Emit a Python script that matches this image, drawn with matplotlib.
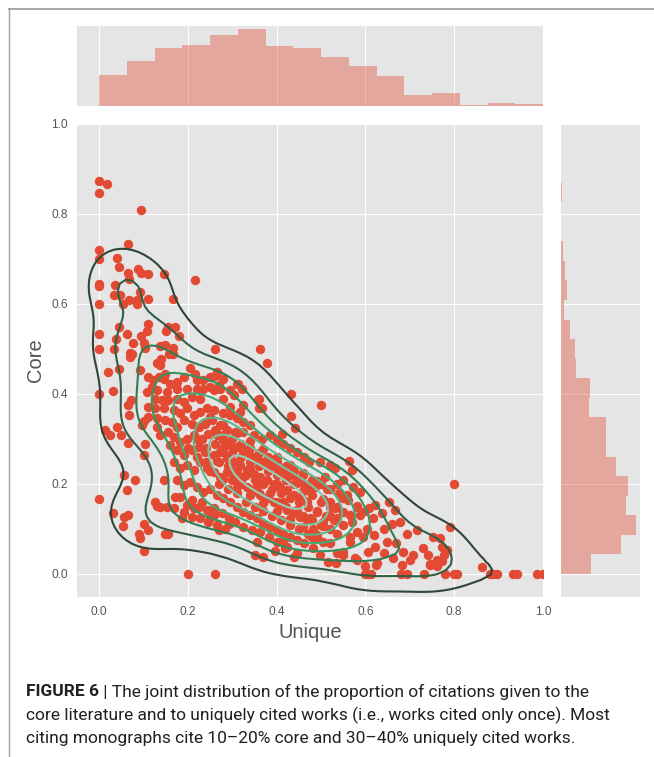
import numpy as np
import matplotlib
matplotlib.use("Agg")
import matplotlib.pyplot as plt
from matplotlib.colors import LinearSegmentedColormap
from matplotlib.lines import Line2D

plt.style.use("ggplot")
plt.rcParams["font.family"] = ["Liberation Sans", "DejaVu Sans"]

# (unique, core) pairs, grouped by region
upper_left = [
    (0.000, 0.873), (0.017, 0.866), (0.000, 0.846), (0.095, 0.810), (0.065, 0.734),
    (0.000, 0.720), (0.000, 0.700), (0.041, 0.703), (0.044, 0.682), (0.065, 0.668),
    (0.068, 0.655), (0.087, 0.677), (0.095, 0.668), (0.110, 0.667), (0.147, 0.667),
    (0.216, 0.653), (0.000, 0.645), (0.000, 0.640), (0.035, 0.643), (0.034, 0.621),
    (0.046, 0.619), (0.054, 0.601), (0.068, 0.609), (0.086, 0.609), (0.086, 0.600),
    (0.092, 0.626), (0.110, 0.612), (0.166, 0.612), (0.000, 0.601), (0.000, 0.534),
    (0.000, 0.501), (0.034, 0.501), (0.038, 0.522), (0.045, 0.548), (0.062, 0.533),
    (0.077, 0.514), (0.070, 0.492), (0.075, 0.490), (0.095, 0.529), (0.107, 0.540),
    (0.109, 0.555), (0.102, 0.514), (0.104, 0.503), (0.136, 0.507), (0.149, 0.510),
    (0.154, 0.549), (0.171, 0.548), (0.150, 0.540), (0.179, 0.529), (0.166, 0.502),
    (0.166, 0.490), (0.260, 0.501), (0.363, 0.501), (0.139, 0.477), (0.157, 0.488),
]

left_spread = [
    (0.070, 0.482), (0.020, 0.449), (0.044, 0.455), (0.000, 0.401), (0.030, 0.407),
    (0.092, 0.453), (0.066, 0.375), (0.068, 0.353), (0.072, 0.386), (0.014, 0.320),
    (0.025, 0.309), (0.040, 0.327), (0.050, 0.309), (0.066, 0.292), (0.100, 0.340),
    (0.096, 0.331), (0.104, 0.290), (0.100, 0.264), (0.055, 0.220), (0.081, 0.209),
    (0.062, 0.186), (0.000, 0.166), (0.030, 0.135), (0.055, 0.126), (0.064, 0.132),
    (0.053, 0.106), (0.089, 0.090), (0.093, 0.081), (0.111, 0.098), (0.100, 0.112),
    (0.100, 0.051), (0.126, 0.161), (0.130, 0.152), (0.136, 0.150), (0.145, 0.209),
    (0.149, 0.090), (0.156, 0.089), (0.171, 0.172), (0.186, 0.125),
]

band_outliers = [
    (0.378, 0.468), (0.433, 0.400), (0.432, 0.351), (0.442, 0.325), (0.500, 0.375),
    (0.313, 0.423), (0.358, 0.386), (0.360, 0.370), (0.411, 0.312), (0.295, 0.408),
    (0.265, 0.449), (0.260, 0.440), (0.270, 0.420), (0.564, 0.251), (0.569, 0.231),
    (0.652, 0.161), (0.667, 0.142), (0.800, 0.201), (0.790, 0.105),
]

band_lower = [
    (0.198, 0.153), (0.213, 0.146), (0.231, 0.161), (0.250, 0.124), (0.258, 0.131),
    (0.269, 0.098), (0.292, 0.112), (0.355, 0.072), (0.352, 0.042), (0.370, 0.038),
    (0.397, 0.051), (0.419, 0.057), (0.438, 0.038), (0.415, 0.076),
]

zero_row = [
    (0.199, 0.0), (0.262, 0.0), (0.599, 0.0), (0.606, 0.0), (0.613, 0.0),
    (0.679, 0.0), (0.693, 0.0), (0.732, 0.0), (0.779, 0.0), (0.800, 0.0),
    (0.807, 0.0), (0.880, 0.0), (0.888, 0.0), (0.897, 0.0), (0.933, 0.0),
    (0.941, 0.0), (0.987, 0.0), (1.000, 0.0), (0.862, 0.015), (0.746, 0.022),
    (0.761, 0.017), (0.772, 0.028), (0.600, 0.017), (0.624, 0.020), (0.534, 0.025),
]

band_upper = [
    (0.111, 0.438), (0.122, 0.431), (0.134, 0.438), (0.145, 0.434), (0.137, 0.464),
    (0.130, 0.468), (0.149, 0.445), (0.160, 0.423), (0.175, 0.427), (0.190, 0.438),
    (0.205, 0.457), (0.216, 0.445), (0.198, 0.412), (0.175, 0.412), (0.153, 0.405),
    (0.130, 0.408), (0.119, 0.416), (0.107, 0.405), (0.126, 0.390), (0.141, 0.386),
    (0.156, 0.386), (0.175, 0.390), (0.190, 0.383), (0.209, 0.394), (0.228, 0.390),
    (0.220, 0.412), (0.235, 0.412), (0.250, 0.416), (0.265, 0.449), (0.258, 0.408),
    (0.273, 0.412), (0.280, 0.390), (0.295, 0.371), (0.310, 0.423), (0.322, 0.412),
    (0.303, 0.397), (0.280, 0.434), (0.250, 0.438), (0.235, 0.431), (0.220, 0.431),
    (0.111, 0.371), (0.126, 0.368), (0.145, 0.368), (0.168, 0.364), (0.183, 0.357),
    (0.198, 0.368), (0.213, 0.353), (0.228, 0.360), (0.243, 0.368), (0.258, 0.364),
    (0.280, 0.357), (0.295, 0.353), (0.310, 0.346), (0.325, 0.338), (0.340, 0.331),
    (0.359, 0.390), (0.367, 0.368), (0.325, 0.375), (0.318, 0.360), (0.111, 0.349),
    (0.130, 0.346), (0.149, 0.342), (0.164, 0.338), (0.175, 0.327), (0.190, 0.342),
    (0.209, 0.334), (0.224, 0.327), (0.239, 0.334), (0.254, 0.342), (0.273, 0.331),
    (0.288, 0.320), (0.307, 0.316), (0.325, 0.316), (0.348, 0.309), (0.367, 0.301),
    (0.385, 0.309), (0.400, 0.297), (0.415, 0.290), (0.430, 0.279), (0.446, 0.272),
    (0.461, 0.260), (0.472, 0.249),
]

band_middle = [
    (0.130, 0.327), (0.137, 0.309), (0.156, 0.316), (0.168, 0.305), (0.183, 0.294),
    (0.198, 0.301), (0.213, 0.309), (0.231, 0.301), (0.246, 0.312), (0.265, 0.309),
    (0.280, 0.297), (0.295, 0.286), (0.310, 0.283), (0.325, 0.275), (0.340, 0.264),
    (0.355, 0.257), (0.370, 0.249), (0.385, 0.242), (0.400, 0.235), (0.415, 0.227),
    (0.430, 0.220), (0.446, 0.212), (0.461, 0.201), (0.472, 0.190),
    (0.160, 0.286), (0.175, 0.275), (0.190, 0.264), (0.209, 0.275), (0.224, 0.283),
    (0.239, 0.272), (0.258, 0.264), (0.273, 0.272), (0.288, 0.257), (0.303, 0.249),
    (0.318, 0.242), (0.333, 0.231), (0.348, 0.223), (0.363, 0.216), (0.378, 0.209),
    (0.393, 0.201), (0.408, 0.194), (0.423, 0.186), (0.438, 0.175), (0.453, 0.168),
    (0.468, 0.161),
    (0.168, 0.249), (0.183, 0.235), (0.198, 0.242), (0.213, 0.231), (0.228, 0.249),
    (0.243, 0.235), (0.258, 0.227), (0.273, 0.216), (0.288, 0.227), (0.303, 0.216),
    (0.318, 0.205), (0.333, 0.194), (0.348, 0.186), (0.363, 0.175), (0.378, 0.168),
    (0.393, 0.161), (0.408, 0.153), (0.423, 0.142), (0.438, 0.135), (0.453, 0.127),
    (0.468, 0.120),
    (0.175, 0.209), (0.190, 0.198), (0.205, 0.205), (0.220, 0.194), (0.235, 0.183),
    (0.250, 0.190), (0.265, 0.175), (0.280, 0.168), (0.295, 0.161), (0.310, 0.149),
    (0.325, 0.138), (0.340, 0.131), (0.355, 0.124), (0.370, 0.112), (0.385, 0.105),
    (0.400, 0.098), (0.415, 0.090), (0.430, 0.083), (0.446, 0.075), (0.461, 0.068),
    (0.183, 0.172), (0.209, 0.164), (0.224, 0.149), (0.243, 0.142), (0.258, 0.146),
    (0.276, 0.135), (0.292, 0.124), (0.307, 0.116), (0.325, 0.105), (0.344, 0.098),
    (0.363, 0.094), (0.382, 0.083), (0.400, 0.072), (0.423, 0.061), (0.446, 0.046),
    (0.153, 0.149), (0.168, 0.146), (0.190, 0.138), (0.209, 0.127), (0.228, 0.124),
    (0.246, 0.116), (0.265, 0.109), (0.284, 0.101),
]

band_core = [
    (0.30, 0.27), (0.32, 0.26), (0.34, 0.25), (0.36, 0.24), (0.38, 0.23), (0.40, 0.22),
    (0.42, 0.21), (0.44, 0.20), (0.46, 0.185), (0.48, 0.175), (0.50, 0.16), (0.52, 0.15),
    (0.31, 0.23), (0.33, 0.22), (0.35, 0.21), (0.37, 0.20), (0.39, 0.19), (0.41, 0.18),
    (0.43, 0.17), (0.45, 0.16), (0.47, 0.15), (0.49, 0.14), (0.51, 0.13), (0.53, 0.12),
    (0.30, 0.21), (0.32, 0.20), (0.34, 0.19), (0.36, 0.18), (0.38, 0.17), (0.40, 0.16),
    (0.42, 0.15), (0.44, 0.14), (0.46, 0.13), (0.48, 0.12), (0.50, 0.11), (0.52, 0.10),
    (0.26, 0.29), (0.28, 0.28), (0.27, 0.25), (0.29, 0.24), (0.25, 0.23), (0.27, 0.20),
    (0.29, 0.19), (0.31, 0.18), (0.33, 0.16), (0.35, 0.15), (0.37, 0.14), (0.39, 0.13),
    (0.41, 0.12), (0.43, 0.11), (0.45, 0.10), (0.47, 0.09), (0.49, 0.08),
    (0.22, 0.30), (0.24, 0.28), (0.20, 0.28), (0.22, 0.26), (0.24, 0.25), (0.26, 0.32),
    (0.28, 0.31), (0.30, 0.30), (0.32, 0.29), (0.34, 0.28), (0.36, 0.27), (0.38, 0.26),
    (0.40, 0.25), (0.42, 0.24), (0.44, 0.23), (0.46, 0.22), (0.48, 0.21), (0.50, 0.20),
    (0.52, 0.19), (0.54, 0.18), (0.56, 0.165), (0.58, 0.15), (0.60, 0.14),
]

band_core_wide = [
    (0.25, 0.350), (0.28, 0.332), (0.31, 0.314), (0.34, 0.296), (0.37, 0.278), (0.40, 0.260),
    (0.43, 0.242), (0.46, 0.224), (0.49, 0.206), (0.52, 0.188), (0.55, 0.170), (0.58, 0.152),
    (0.25, 0.230), (0.28, 0.212), (0.31, 0.194), (0.34, 0.176), (0.37, 0.158), (0.40, 0.140),
    (0.43, 0.122), (0.46, 0.104), (0.49, 0.086), (0.52, 0.068), (0.55, 0.050), (0.58, 0.032),
    (0.265, 0.311), (0.295, 0.293), (0.325, 0.275), (0.355, 0.257), (0.385, 0.239),
    (0.415, 0.221), (0.445, 0.203), (0.475, 0.185), (0.505, 0.167), (0.535, 0.149),
    (0.565, 0.131),
    (0.265, 0.251), (0.295, 0.233), (0.325, 0.215), (0.355, 0.197), (0.385, 0.179),
    (0.415, 0.161), (0.445, 0.143), (0.475, 0.125), (0.505, 0.107), (0.535, 0.089),
    (0.565, 0.071),
    (0.28, 0.272), (0.34, 0.236), (0.40, 0.200), (0.46, 0.164), (0.52, 0.128),
]

band_right = [
    (0.497, 0.249), (0.520, 0.242), (0.531, 0.235), (0.508, 0.216), (0.486, 0.194),
    (0.513, 0.190), (0.535, 0.201), (0.550, 0.209), (0.572, 0.194), (0.588, 0.183),
    (0.558, 0.175), (0.520, 0.161), (0.531, 0.146), (0.550, 0.138), (0.535, 0.124),
    (0.490, 0.138), (0.505, 0.116), (0.482, 0.101), (0.520, 0.101), (0.550, 0.109),
    (0.569, 0.116), (0.588, 0.131), (0.607, 0.146), (0.622, 0.153), (0.637, 0.135),
    (0.618, 0.124), (0.603, 0.101), (0.580, 0.094), (0.565, 0.083), (0.595, 0.083),
    (0.620, 0.087), (0.642, 0.101), (0.659, 0.112), (0.678, 0.116), (0.693, 0.090),
    (0.648, 0.072), (0.669, 0.068), (0.685, 0.050), (0.708, 0.042), (0.715, 0.098),
    (0.730, 0.057), (0.741, 0.042), (0.753, 0.083), (0.768, 0.079), (0.772, 0.061),
    (0.761, 0.031), (0.745, 0.020), (0.776, 0.042), (0.783, 0.053), (0.606, 0.050),
    (0.625, 0.024), (0.576, 0.035), (0.550, 0.042), (0.535, 0.046), (0.516, 0.027),
    (0.497, 0.042), (0.482, 0.057), (0.479, 0.083), (0.505, 0.072), (0.683, 0.020),
    (0.700, 0.031), (0.663, 0.035), (0.641, 0.046), (0.622, 0.061),
]

# marginal histograms (bar heights)
unique_hist = [93, 135, 174, 182, 213, 231, 179, 174, 147, 120, 90, 33, 39, 2, 9, 6]
unique_range = (0.0, 1.0)
core_hist = [90, 179, 226, 195, 201, 165, 135, 135, 84, 86, 45, 43, 28, 8, 18, 13, 6, 0, 0, 3]
core_range = (0.0, 0.87)

ticks = [0.0, 0.2, 0.4, 0.6, 0.8, 1.0]

pts = np.array(upper_left + left_spread + band_outliers + band_lower + zero_row
               + band_upper + band_middle + band_core + band_core_wide + band_right)
x, y = pts[:, 0], pts[:, 1]

red = "#E24A33"
W, H = 654, 757
fig = plt.figure(figsize=(W / 100, H / 100), dpi=100)
fig.patch.set_facecolor("white")

ax = fig.add_axes([77 / W, 1 - 596.5 / H, 466 / W, 472.5 / H])
ax_top = fig.add_axes([77 / W, 1 - 106 / H, 466 / W, 80 / H], sharex=ax)
ax_right = fig.add_axes([561 / W, 1 - 596.5 / H, 79 / W, 472.5 / H], sharey=ax)

# joint: scatter + bivariate kde contours
ax.scatter(x, y, s=46, color=red, linewidths=0, zorder=2)

n = len(x)
bw = 0.8 * pts.std(axis=0, ddof=1) * n ** (-1 / 6)
gx = np.linspace(x.min() - 3 * bw[0], x.max() + 3 * bw[0], 100)
gy = np.linspace(y.min() - 3 * bw[1], y.max() + 3 * bw[1], 100)
xx, yy = np.meshgrid(gx, gy)
kx = np.exp(-0.5 * ((xx[..., None] - x) / bw[0]) ** 2)
ky = np.exp(-0.5 * ((yy[..., None] - y) / bw[1]) ** 2)
z = (kx * ky).sum(-1) / (n * 2 * np.pi * bw[0] * bw[1])

bugn = plt.get_cmap("BuGn")
cmap = LinearSegmentedColormap.from_list("bugn_d", ["#2b2b2b", bugn(2 / 3), bugn(1 / 3)])
ax.contour(xx, yy, z, 10, cmap=cmap, linewidths=1.5, zorder=3)

ax.set_xlim(-0.05, 1.0)
ax.set_ylim(-0.05, 1.0)
ax.set_xticks(ticks)
ax.set_yticks(ticks)
ax.set_xticklabels([f"{t:.1f}" for t in ticks])
ax.set_yticklabels([f"{t:.1f}" for t in ticks])
ax.tick_params(length=0, pad=6.5, labelsize=8.6, colors="#555555")
ax.set_xlabel("Unique", fontsize=14.5, color="#555555", labelpad=4)
ax.set_ylabel("Core", fontsize=14.5, color="#555555", labelpad=5)

# marginals
ue = np.linspace(*unique_range, len(unique_hist) + 1)
ax_top.bar(ue[:-1], unique_hist, width=np.diff(ue), align="edge", color=red, alpha=0.4)
ax_top.set_ylim(0, max(unique_hist) * 1.04)
ax_top.grid(False, axis="y")
ax_top.tick_params(labelbottom=False, labelleft=False, length=0)

ce = np.linspace(*core_range, len(core_hist) + 1)
ax_right.barh(ce[:-1], core_hist, height=np.diff(ce), align="edge", color=red, alpha=0.4)
ax_right.set_xlim(0, max(core_hist) * 1.05)
ax_right.grid(False, axis="x")
ax_right.tick_params(labelbottom=False, labelleft=False, length=0)

for a in (ax, ax_top, ax_right):
    for s in a.spines.values():
        s.set_visible(False)

# frame of the figure panel
fig.add_artist(Line2D([9 / W, 1], [1 - 9 / H, 1 - 9 / H], color="#a0a0a0", lw=1.3,
                      transform=fig.transFigure))
fig.add_artist(Line2D([9 / W, 9 / W], [0, 1 - 9 / H], color="#a0a0a0", lw=1.0,
                      transform=fig.transFigure))

# caption
cap_font = ["Liberation Sans Narrow", "Roboto", "DejaVu Sans"]
cap_head = "FIGURE 6"
cap_lines = [
    " | The joint distribution of the proportion of citations given to the",
    "core literature and to uniquely cited works (i.e., works cited only once). Most",
    "citing monographs cite 10\u201320% core and 30\u201340% uniquely cited works.",
]
fig.canvas.draw()
renderer = fig.canvas.get_renderer()
probe = fig.text(0, 0, cap_lines[1], fontsize=12, family=cap_font)
cap_size = 12 * (608 - 26) / probe.get_window_extent(renderer).width
probe.remove()

baselines = [696.5, 720, 743.5]
cap_color = "#231f20"
head = fig.text(26 / W, 1 - baselines[0] / H, cap_head, fontsize=cap_size, family=cap_font,
                fontweight="bold", color=cap_color, va="baseline")
hb = head.get_window_extent(renderer)
fig.text(hb.x1 / W, 1 - baselines[0] / H, cap_lines[0], fontsize=cap_size, family=cap_font,
         color=cap_color, va="baseline")
for line, b in zip(cap_lines[1:], baselines[1:]):
    fig.text(26 / W, 1 - b / H, line, fontsize=cap_size, family=cap_font,
             color=cap_color, va="baseline")

fig.savefig("out.png", dpi=100)
